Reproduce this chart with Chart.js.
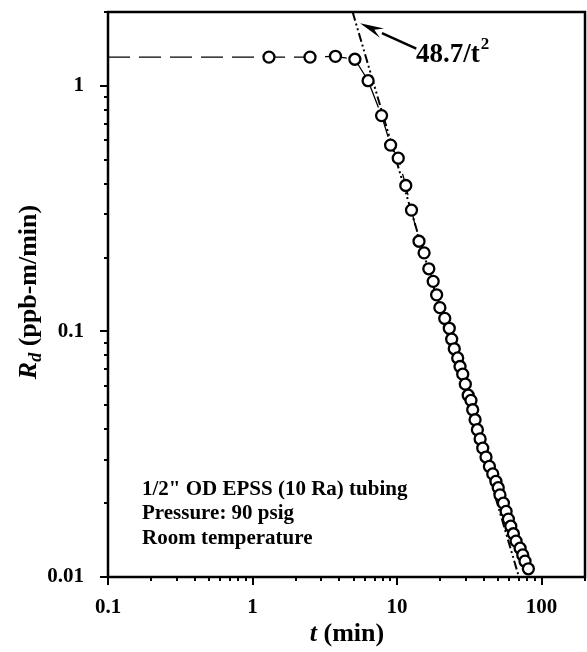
<!DOCTYPE html>
<html>
<head>
<meta charset="utf-8">
<script src="https://cdn.jsdelivr.net/npm/chart.js@4/dist/chart.umd.min.js"></script>
<style>
  html, body { margin: 0; padding: 0; background: #fff; }
  #wrap { width: 587px; height: 652px; }
</style>
</head>
<body>
<div id="wrap"><canvas id="c" width="587" height="652"></canvas></div>
<script>
// ---- data ----
const tData = [1.30, 2.50, 3.75, 5.11, 6.31, 7.82, 9.03, 10.2, 11.5, 12.6, 14.2, 15.4, 16.6, 17.8, 18.8, 19.8,
  21.4, 23.0, 23.9, 24.9, 26.3, 27.3, 28.5, 29.7, 31.1, 32.5, 33.4, 34.7, 36.0, 37.6, 39.2, 41.3, 43.6,
  46.0, 48.4, 50.2, 51.6, 54.5, 56.9, 59.0, 61.3, 63.9, 66.7, 71.1, 74.2, 76.9, 81.1];
const rData = [1.31, 1.31, 1.32, 1.284, 1.05, 0.757, 0.574, 0.508, 0.393, 0.312, 0.233, 0.209, 0.180, 0.160, 0.141, 0.125,
  0.113, 0.103, 0.093, 0.085, 0.078, 0.072, 0.067, 0.061, 0.055, 0.0524, 0.048, 0.0437, 0.0398, 0.0365, 0.0335, 0.0308, 0.0282,
  0.0263, 0.0245, 0.0231, 0.0216, 0.0200, 0.0185, 0.0172, 0.0161, 0.0150, 0.0140, 0.0131, 0.0123, 0.0116, 0.0108];
// dashed guide starts at the left axis at the plateau level
const leadT = [0.1];
const leadR = [1.31];
// fitted line 48.7/t^2 (end points at the frame)
const fitT = [4.93, 69.8];
const fitR = [2.0, 0.01];
const fitLabel = "48.7/t";
const fitSup = "2";
// arrow tip (data coords) and tail
const arrowTip = { t: 5.55, r: 1.80 };
const arrowTail = { t: 13.6, r: 1.42 };
// tick labels
const xTickLabels = [0.1, 1, 10, 100];
const yTickLabels = [0.01, 0.1, 1];
const xMinorTicks = [0.2,0.3,0.4,0.5,0.6,0.7,0.8,0.9,2,3,4,5,6,7,8,9,20,30,40,50,60,70,80,90,200];
const yMinorTicks = [0.02,0.03,0.04,0.05,0.06,0.07,0.08,0.09,0.2,0.3,0.4,0.5,0.6,0.7,0.8,0.9,2];
const infoLines = ['1/2" OD EPSS (10 Ra) tubing', 'Pressure: 90 psig', 'Room temperature'];

const SERIF = '"Liberation Serif", "Times New Roman", serif';

const pts = tData.map((t, i) => ({ x: t, y: rData[i] }));
const linePts = leadT.map((t, i) => ({ x: t, y: leadR[i] })).concat(pts);
const fitPts = fitT.map((t, i) => ({ x: t, y: fitR[i] }));

function buildTicks(major, minor) {
  return major.concat(minor).sort((a, b) => a - b).map(v => ({ value: v }));
}
function isMajor(v) {
  const l = Math.log10(v);
  return Math.abs(l - Math.round(l)) < 1e-9;
}

const decorPlugin = {
  id: 'decor',
  afterDraw(chart) {
    const ctx = chart.ctx;
    const a = chart.chartArea;
    const xs = chart.scales.x, ys = chart.scales.y;
    ctx.save();
    // ticks
    ctx.strokeStyle = '#000';
    ctx.lineWidth = 2;
    xs.ticks.forEach(tk => {
      const p = Math.round(xs.getPixelForValue(tk.value)) ;
      const len = isMajor(tk.value) ? 8 : 4;
      ctx.beginPath(); ctx.moveTo(p, a.bottom); ctx.lineTo(p, a.bottom + len); ctx.stroke();
    });
    ys.ticks.forEach(tk => {
      const p = Math.round(ys.getPixelForValue(tk.value));
      const len = isMajor(tk.value) ? 8 : 4;
      ctx.beginPath(); ctx.moveTo(a.left, p); ctx.lineTo(a.left - len, p); ctx.stroke();
    });
    // frame
    ctx.lineWidth = 2.5;
    ctx.strokeRect(a.left, a.top, a.right - a.left, a.bottom - a.top);

    ctx.fillStyle = '#000';
    // info text
    ctx.font = 'bold 21px ' + SERIF;
    ctx.textAlign = 'left';
    ctx.textBaseline = 'alphabetic';
    infoLines.forEach((s, i) => ctx.fillText(s, 142, 495 + i * 24.3));

    // annotation text
    ctx.font = 'bold 27px ' + SERIF;
    ctx.fillText(fitLabel, 416, 62);
    const w = ctx.measureText(fitLabel).width;
    ctx.font = 'bold 17px ' + SERIF;
    ctx.fillText(fitSup, 416 + w + 1, 49);

    // arrow
    const tx = xs.getPixelForValue(arrowTip.t), ty = ys.getPixelForValue(arrowTip.r);
    const sx = xs.getPixelForValue(arrowTail.t), sy = ys.getPixelForValue(arrowTail.r);
    const ang = Math.atan2(ty - sy, tx - sx);
    const hl = 24, hw = 5;
    const bx = tx - hl * Math.cos(ang), by = ty - hl * Math.sin(ang);
    ctx.lineWidth = 2.5;
    ctx.beginPath(); ctx.moveTo(sx, sy); ctx.lineTo(bx, by); ctx.stroke();
    ctx.beginPath();
    ctx.moveTo(tx, ty);
    ctx.lineTo(bx + hw * Math.sin(ang), by - hw * Math.cos(ang));
    ctx.lineTo(bx + 0.35 * hl * Math.cos(ang), by + 0.35 * hl * Math.sin(ang));
    ctx.lineTo(bx - hw * Math.sin(ang), by + hw * Math.cos(ang));
    ctx.closePath(); ctx.fill();

    // x title: t (min)
    ctx.textBaseline = 'alphabetic';
    const xt1 = 't', xt2 = ' (min)';
    ctx.font = 'italic bold 26px ' + SERIF;
    const w1 = ctx.measureText(xt1).width;
    ctx.font = 'bold 26px ' + SERIF;
    const w2 = ctx.measureText(xt2).width;
    let x0 = 347 - (w1 + w2) / 2;
    ctx.font = 'italic bold 26px ' + SERIF;
    ctx.fillText(xt1, x0, 641);
    ctx.font = 'bold 26px ' + SERIF;
    ctx.fillText(xt2, x0 + w1, 641);

    // y title: R_d (ppb-m/min)
    ctx.translate(36, 292);
    ctx.rotate(-Math.PI / 2);
    ctx.font = 'italic bold 26px ' + SERIF;
    const r1 = ctx.measureText('R').width;
    ctx.font = 'italic bold 18px ' + SERIF;
    const r2 = ctx.measureText('d').width;
    ctx.font = 'bold 26px ' + SERIF;
    const r3 = ctx.measureText(' (ppb-m/min)').width;
    let y0 = -(r1 + r2 + r3) / 2;
    ctx.font = 'italic bold 26px ' + SERIF;
    ctx.fillText('R', y0, 0);
    ctx.font = 'italic bold 18px ' + SERIF;
    ctx.fillText('d', y0 + r1, 5);
    ctx.font = 'bold 26px ' + SERIF;
    ctx.fillText(' (ppb-m/min)', y0 + r1 + r2, 0);
    ctx.restore();
  }
};

new Chart(document.getElementById('c'), {
  type: 'scatter',
  data: {
    datasets: [
      {
        label: 'fit',
        data: fitPts,
        showLine: true,
        borderColor: '#000',
        borderWidth: 2,
        borderDash: [9, 3, 2, 3, 2, 3],
        pointRadius: 0,
        order: 3
      },
      {
        label: 'guide',
        data: linePts,
        showLine: true,
        borderColor: '#000',
        borderWidth: 1.3,
        borderDash: [22, 9],
        pointRadius: 0,
        order: 2
      },
      {
        label: 'Rd',
        data: pts,
        showLine: false,
        pointRadius: 5.5,
        pointBorderWidth: 2.3,
        pointBorderColor: '#000',
        pointBackgroundColor: '#fff',
        order: 1
      }
    ]
  },
  options: {
    responsive: false,
    devicePixelRatio: 1,
    animation: false,
    events: [],
    layout: { autoPadding: false, padding: { left: 0, top: 12, right: 2, bottom: 0 } },
    plugins: { legend: { display: false }, tooltip: { enabled: false } },
    scales: {
      x: {
        type: 'logarithmic',
        position: 'bottom',
        min: 0.1, max: 200,
        grid: { display: false, drawTicks: true, tickLength: 8 },
        border: { display: false },
        afterBuildTicks: s => { s.ticks = buildTicks(xTickLabels, xMinorTicks); },
        afterFit: s => { s.height = 75; s.paddingLeft = 0; s.paddingRight = 0; },
        ticks: {
          autoSkip: false,
          maxRotation: 0,
          padding: 10,
          color: '#000',
          font: { family: SERIF, size: 21, weight: 'bold' },
          callback: v => xTickLabels.includes(v) ? String(v) : ''
        }
      },
      y: {
        type: 'logarithmic',
        position: 'left',
        min: 0.01, max: 2,
        grid: { display: false, drawTicks: true, tickLength: 8 },
        border: { display: false },
        afterBuildTicks: s => { s.ticks = buildTicks(yTickLabels, yMinorTicks); },
        afterFit: s => { s.width = 108; s.paddingTop = 0; s.paddingBottom = 0; },
        ticks: {
          autoSkip: false,
          padding: 16,
          color: '#000',
          font: { family: SERIF, size: 21, weight: 'bold' },
          callback: v => yTickLabels.includes(v) ? String(v) : ''
        }
      }
    }
  },
  plugins: [decorPlugin]
});
</script>
</body>
</html>
